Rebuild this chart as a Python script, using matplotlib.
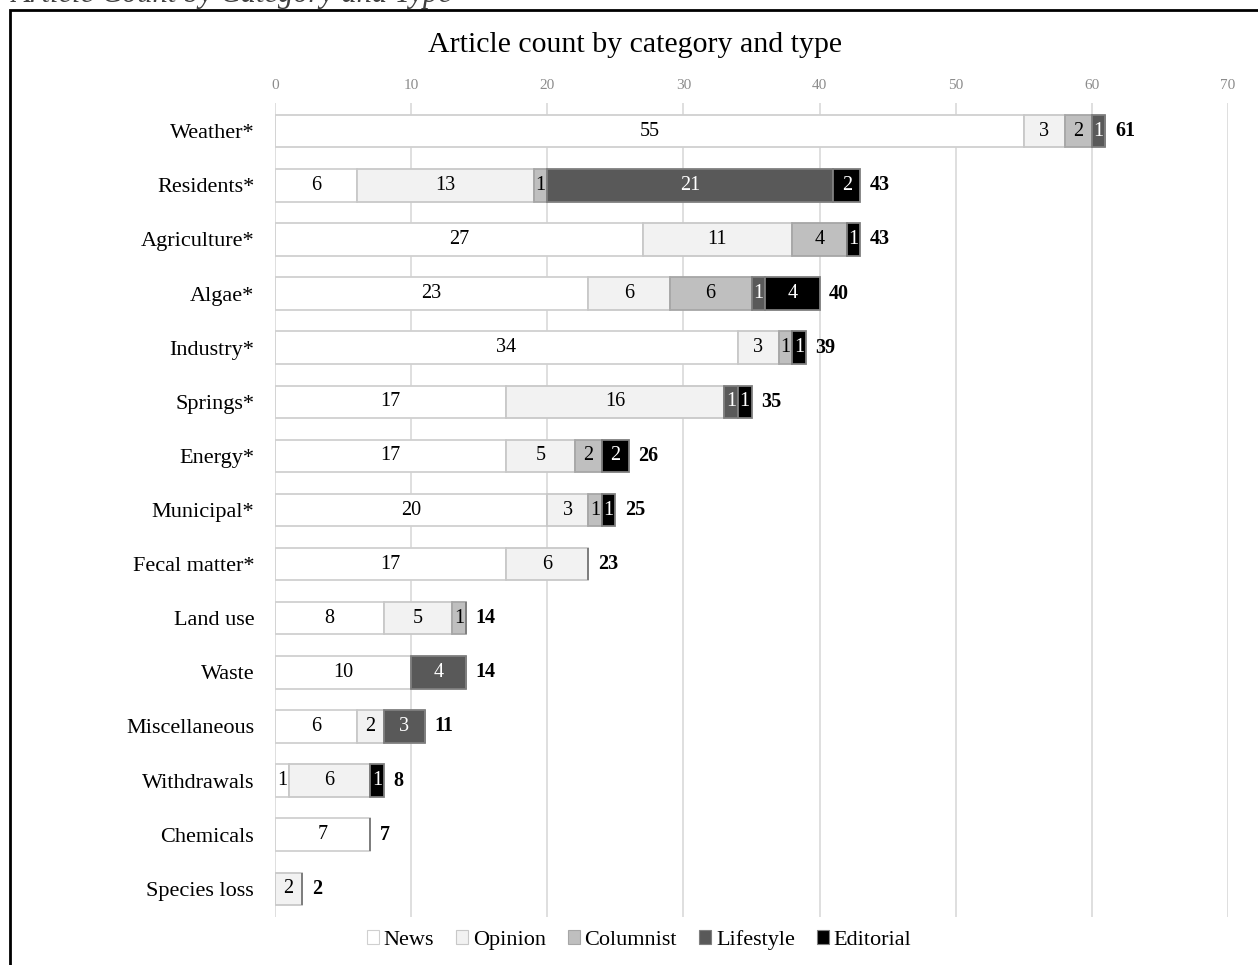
"""Stacked horizontal bar chart: article count by category and type."""
import matplotlib
matplotlib.use("Agg")
import matplotlib.pyplot as plt
from matplotlib.patches import Rectangle
import numpy as np

plt.rcParams["font.family"] = ["Liberation Serif", "DejaVu Serif"]

categories = ["Weather*", "Residents*", "Agriculture*", "Algae*", "Industry*",
              "Springs*", "Energy*", "Municipal*", "Fecal matter*", "Land use",
              "Waste", "Miscellaneous", "Withdrawals", "Chemicals", "Species loss"]
types = ["News", "Opinion", "Columnist", "Lifestyle", "Editorial"]

news = [55, 6, 27, 23, 34, 17, 17, 20, 17, 8, 10, 6, 1, 7, 0]
opinion = [3, 13, 11, 6, 3, 16, 5, 3, 6, 5, 0, 2, 6, 0, 2]
columnist = [2, 1, 4, 6, 1, 0, 2, 1, 0, 1, 0, 0, 0, 0, 0]
lifestyle = [1, 21, 0, 1, 0, 1, 0, 0, 0, 0, 4, 3, 0, 0, 0]
editorial = [0, 2, 1, 4, 1, 1, 2, 1, 0, 0, 0, 0, 1, 0, 0]

colors = ["#ffffff", "#f2f2f2", "#bfbfbf", "#595959", "#000000"]
edges = ["#d0d0d0", "#c8c8c8", "#a6a6a6", "#7f7f7f", "#7f7f7f"]
text_colors = ["black", "black", "black", "white", "white"]

W, H = 1258, 965
fig = plt.figure(figsize=(W / 100, H / 100), dpi=100)
ax = fig.add_axes([275 / W, 1 - 917 / H, (1228 - 275) / W, (917 - 103) / H])

y = np.arange(len(categories))
series = [news, opinion, columnist, lifestyle, editorial]
left = np.zeros(len(categories))
for vals, name, fc, ec, tc in zip(series, types, colors, edges, text_colors):
    vals = np.array(vals, dtype=float)
    ax.barh(y, vals, left=left, height=0.6, color=fc, edgecolor=ec,
            linewidth=1.3, label=name, zorder=3)
    for yi, v, l in zip(y, vals, left):
        if v > 0:
            ax.text(l + v / 2, yi, f"{int(v)}", ha="center", va="center",
                    fontsize=14.5, color=tc, zorder=4)
    left += vals

# totals to the right of each bar
for yi, tot in zip(y, left):
    ax.text(tot + 0.7, yi, f"{int(tot)}", ha="left", va="center",
            fontsize=14.5, fontweight="bold", zorder=4)

ax.set_xlim(0, 70)
ax.set_ylim(len(categories) - 0.48, -0.52)
ax.set_xticks(range(0, 71, 10))
ax.xaxis.tick_top()
ax.tick_params(axis="x", length=0, pad=8, labelsize=11, labelcolor="#8c8c8c")
ax.set_yticks(y)
ax.set_yticklabels(categories, fontsize=16)
ax.tick_params(axis="y", length=0, pad=15)
ax.grid(axis="x", color="#d9d9d9", linewidth=1.2, zorder=0)
for s in ax.spines.values():
    s.set_visible(False)

fig.text(635 / W, 1 - 45 / H, "Article count by category and type",
         ha="center", va="center", fontsize=21.5)

ax.legend(loc="center", bbox_to_anchor=(639 / W, 1 - 940 / H),
          bbox_transform=fig.transFigure, ncol=5, frameon=False,
          fontsize=16, handlelength=0.55, handleheight=0.55, handletextpad=0.2,
          columnspacing=1.0)
for h in ax.get_legend().legend_handles:
    h.set_linewidth(0.8)

# figure caption clipped at the top of the page and the box frame
fig.text(12 / W, 1 - 2 / H, "Article Count by Category and Type",
         ha="left", va="baseline", fontsize=22, style="italic", color="#404040")
fig.add_artist(Rectangle((10 / W, -0.1), 1.2, 1 - 10 / H + 0.1,
                         transform=fig.transFigure, fill=False,
                         edgecolor="black", linewidth=2))

fig.savefig("out.png", dpi=100)
